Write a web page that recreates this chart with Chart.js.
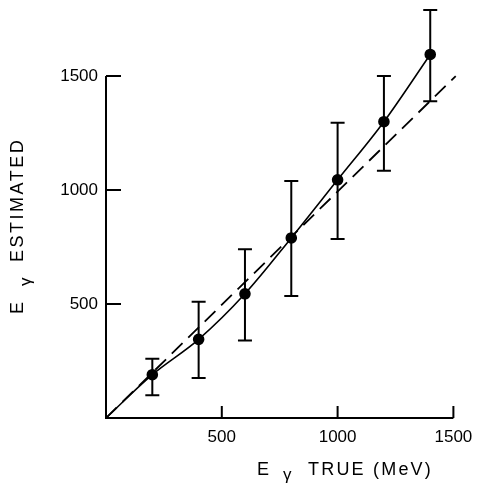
<!DOCTYPE html>
<html>
<head>
<meta charset="utf-8">
<script src="https://cdn.jsdelivr.net/npm/chart.js@4/dist/chart.umd.min.js"></script>
<style>
  html, body { margin: 0; padding: 0; background: #fff; }
  #wrap { width: 482px; height: 483px; }
</style>
</head>
<body>
<div id="wrap"><canvas id="energyChart" width="482" height="483"></canvas></div>
<script>
// energia verdadera vs estimada (MeV)
const trueE = [0, 200, 400, 600, 800, 1000, 1200, 1400];
const estE  = [0, 190, 345, 545, 790, 1045, 1300, 1595];
const errHigh = [null, 260, 510, 740, 1040, 1295, 1500, 1790];
const errLow  = [null, 100, 175, 340, 535, 785, 1085, 1390];

// linea de referencia E estimada = E verdadera
const refX = [0, 1510];
const refY = [0, 1500];

const tickValues = [500, 1000, 1500];
const fontFamily = '"Liberation Sans", Arial, sans-serif';

function toPoints(xs, ys) {
    return xs.map((x, i) => ({ x: x, y: ys[i] }));
}

// barras de error, ejes y titulos
const decorPlugin = {
    id: 'decor',
    afterDatasetsDraw(chart) {
        const ctx = chart.ctx;
        const xs = chart.scales.x;
        const ys = chart.scales.y;
        ctx.save();
        ctx.strokeStyle = '#000';
        ctx.lineWidth = 2;
        for (let i = 0; i < trueE.length; i++) {
            if (errHigh[i] === null) continue;
            let px = xs.getPixelForValue(trueE[i]);
            let top = ys.getPixelForValue(errHigh[i]);
            let bot = ys.getPixelForValue(errLow[i]);
            ctx.beginPath();
            ctx.moveTo(px, top); ctx.lineTo(px, bot);
            ctx.moveTo(px - 7, top); ctx.lineTo(px + 7, top);
            ctx.moveTo(px - 7, bot); ctx.lineTo(px + 7, bot);
            ctx.stroke();
        }
        ctx.restore();
    },
    afterDraw(chart) {
        const ctx = chart.ctx;
        const xs = chart.scales.x;
        const ys = chart.scales.y;
        let x0 = xs.getPixelForValue(0);
        let y0 = ys.getPixelForValue(0);
        ctx.save();
        ctx.strokeStyle = '#000';
        ctx.lineWidth = 2;
        ctx.beginPath();
        ctx.moveTo(x0, ys.getPixelForValue(1500));
        ctx.lineTo(x0, y0);
        ctx.lineTo(xs.getPixelForValue(1500), y0);
        tickValues.forEach(v => {
            let py = ys.getPixelForValue(v);
            ctx.moveTo(x0, py); ctx.lineTo(x0 + 15, py);
            let px = xs.getPixelForValue(v);
            ctx.moveTo(px, y0); ctx.lineTo(px, y0 - 12);
        });
        ctx.stroke();

        // titulos con gamma como subindice
        ctx.fillStyle = '#000';
        ctx.textBaseline = 'alphabetic';
        ctx.textAlign = 'left';
        ctx.font = '18px ' + fontFamily;
        ctx.letterSpacing = '2.2px';
        ctx.fillText('E', 257, 475);
        ctx.fillText('TRUE (MeV)', 308, 475);
        ctx.font = '17px ' + fontFamily;
        ctx.letterSpacing = '0px';
        ctx.fillText('γ', 283, 480);

        ctx.translate(23, 0);
        ctx.rotate(-Math.PI / 2);
        ctx.font = '18px ' + fontFamily;
        ctx.letterSpacing = '2.5px';
        ctx.fillText('E', -314, 0);
        ctx.fillText('ESTIMATED', -262, 0);
        ctx.font = '17px ' + fontFamily;
        ctx.letterSpacing = '0px';
        ctx.fillText('γ', -286, 8);
        ctx.restore();
    }
};

const ctx = document.getElementById('energyChart').getContext('2d');
const energyChart = new Chart(ctx, {
    type: 'scatter',
    data: {
        datasets: [
            {
                label: 'estimado',
                data: toPoints(trueE, estE),
                showLine: true,
                borderColor: '#000',
                borderWidth: 1.6,
                cubicInterpolationMode: 'monotone',
                pointRadius: ctx2 => ctx2.dataIndex === 0 ? 0 : 5,
                pointBackgroundColor: '#000',
                pointBorderColor: '#000',
                fill: false
            },
            {
                label: 'referencia',
                data: toPoints(refX, refY),
                showLine: true,
                borderColor: '#000',
                borderWidth: 1.8,
                borderDash: [15, 8],
                pointRadius: 0,
                fill: false
            }
        ]
    },
    options: {
        responsive: false,
        animation: false,
        layout: { padding: 0 },
        plugins: {
            legend: { display: false },
            tooltip: { enabled: false }
        },
        scales: {
            x: {
                type: 'linear',
                min: 0,
                max: 1595,
                grid: { display: false, drawTicks: false },
                border: { display: false },
                afterBuildTicks: scale => { scale.ticks = tickValues.map(v => ({ value: v })); },
                afterFit: scale => { scale.height = 65; },
                ticks: {
                    color: '#000',
                    padding: 9,
                    maxRotation: 0,
                    font: { family: fontFamily, size: 17 },
                    callback: v => String(v)
                }
            },
            y: {
                type: 'linear',
                min: 0,
                max: 1754,
                grid: { display: false, drawTicks: false },
                border: { display: false },
                afterBuildTicks: scale => { scale.ticks = tickValues.map(v => ({ value: v })); },
                afterFit: scale => { scale.width = 106; },
                ticks: {
                    color: '#000',
                    padding: 8,
                    font: { family: fontFamily, size: 17 },
                    callback: v => String(v)
                }
            }
        }
    },
    plugins: [decorPlugin]
});
</script>
</body>
</html>
